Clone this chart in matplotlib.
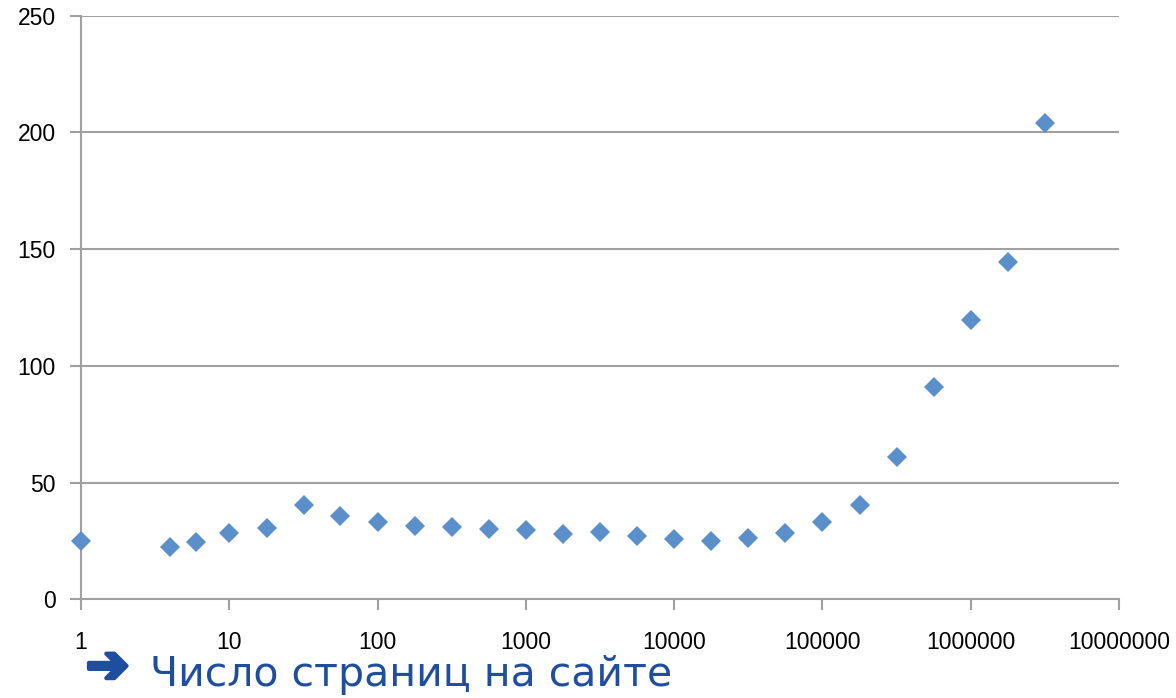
import numpy as np
import matplotlib.pyplot as plt
import matplotlib.ticker as mticker
import matplotlib.patheffects as pe

# number of pages on site (log scale) vs value
pages = [1, 4, 6, 10, 18, 32, 56, 100, 178, 316, 562, 1000, 1778, 3162, 5623,
         10000, 17783, 31623, 56234, 100000, 177828, 316228, 562341,
         1000000, 1778279, 3162278]
values = [25.1, 22.3, 24.5, 28.3, 30.7, 40.5, 35.7, 33.0, 31.5, 30.8, 30.0, 29.6,
          28.0, 28.7, 27.1, 26.0, 25.0, 26.4, 28.5, 33.0, 40.3, 61.0, 91.1,
          119.5, 144.5, 203.9]
xticks = [1, 10, 100, 1000, 10000, 100000, 1000000, 10000000]
yticks = [0, 50, 100, 150, 200, 250]

GRID = '#a0a0a0'
BLUE = '#1f4e9e'

fig = plt.figure(figsize=(11.76, 6.98), dpi=100)
ax = fig.add_axes([81 / 1176, 1 - 599.3 / 698, 1038 / 1176, 583.6 / 698])

ax.plot(pages, values, 'D', color='#5b8fc9', markersize=10, markeredgewidth=0,
        clip_on=False, zorder=3)

ax.set_xscale('log')
ax.set_xlim(1, 1e7)
ax.set_ylim(0, 250)
ax.set_xticks(xticks)
ax.xaxis.set_major_formatter(mticker.FuncFormatter(lambda v, p: '%d' % round(v)))
ax.xaxis.set_minor_locator(mticker.NullLocator())
ax.set_yticks(yticks)

for y in yticks[1:]:
    ax.axhline(y, color=GRID, lw=1.5, zorder=0)

for s in ['top', 'right']:
    ax.spines[s].set_visible(False)
for s in ['left', 'bottom']:
    ax.spines[s].set_color(GRID)
    ax.spines[s].set_linewidth(1.5)

ax.tick_params(axis='both', colors=GRID, width=1.5, length=8, direction='out',
               labelcolor='black', labelsize=16.5)
ax.tick_params(axis='x', pad=15)
ax.tick_params(axis='y', pad=10)
for lbl in ax.get_xticklabels() + ax.get_yticklabels():
    lbl.set_fontfamily('Liberation Sans')

fig.text(86 / 1176, 1 - 668 / 698, '➔', color=BLUE, fontsize=37,
         family='DejaVu Sans', va='center', ha='left',
         path_effects=[pe.withStroke(linewidth=3, foreground=BLUE)])
fig.text(150 / 1176, 1 - 686 / 698, 'Число страниц на сайте', color=BLUE,
         fontsize=29.5, family='DejaVu Sans', va='baseline', ha='left')

plt.savefig('out.png', dpi=100)
